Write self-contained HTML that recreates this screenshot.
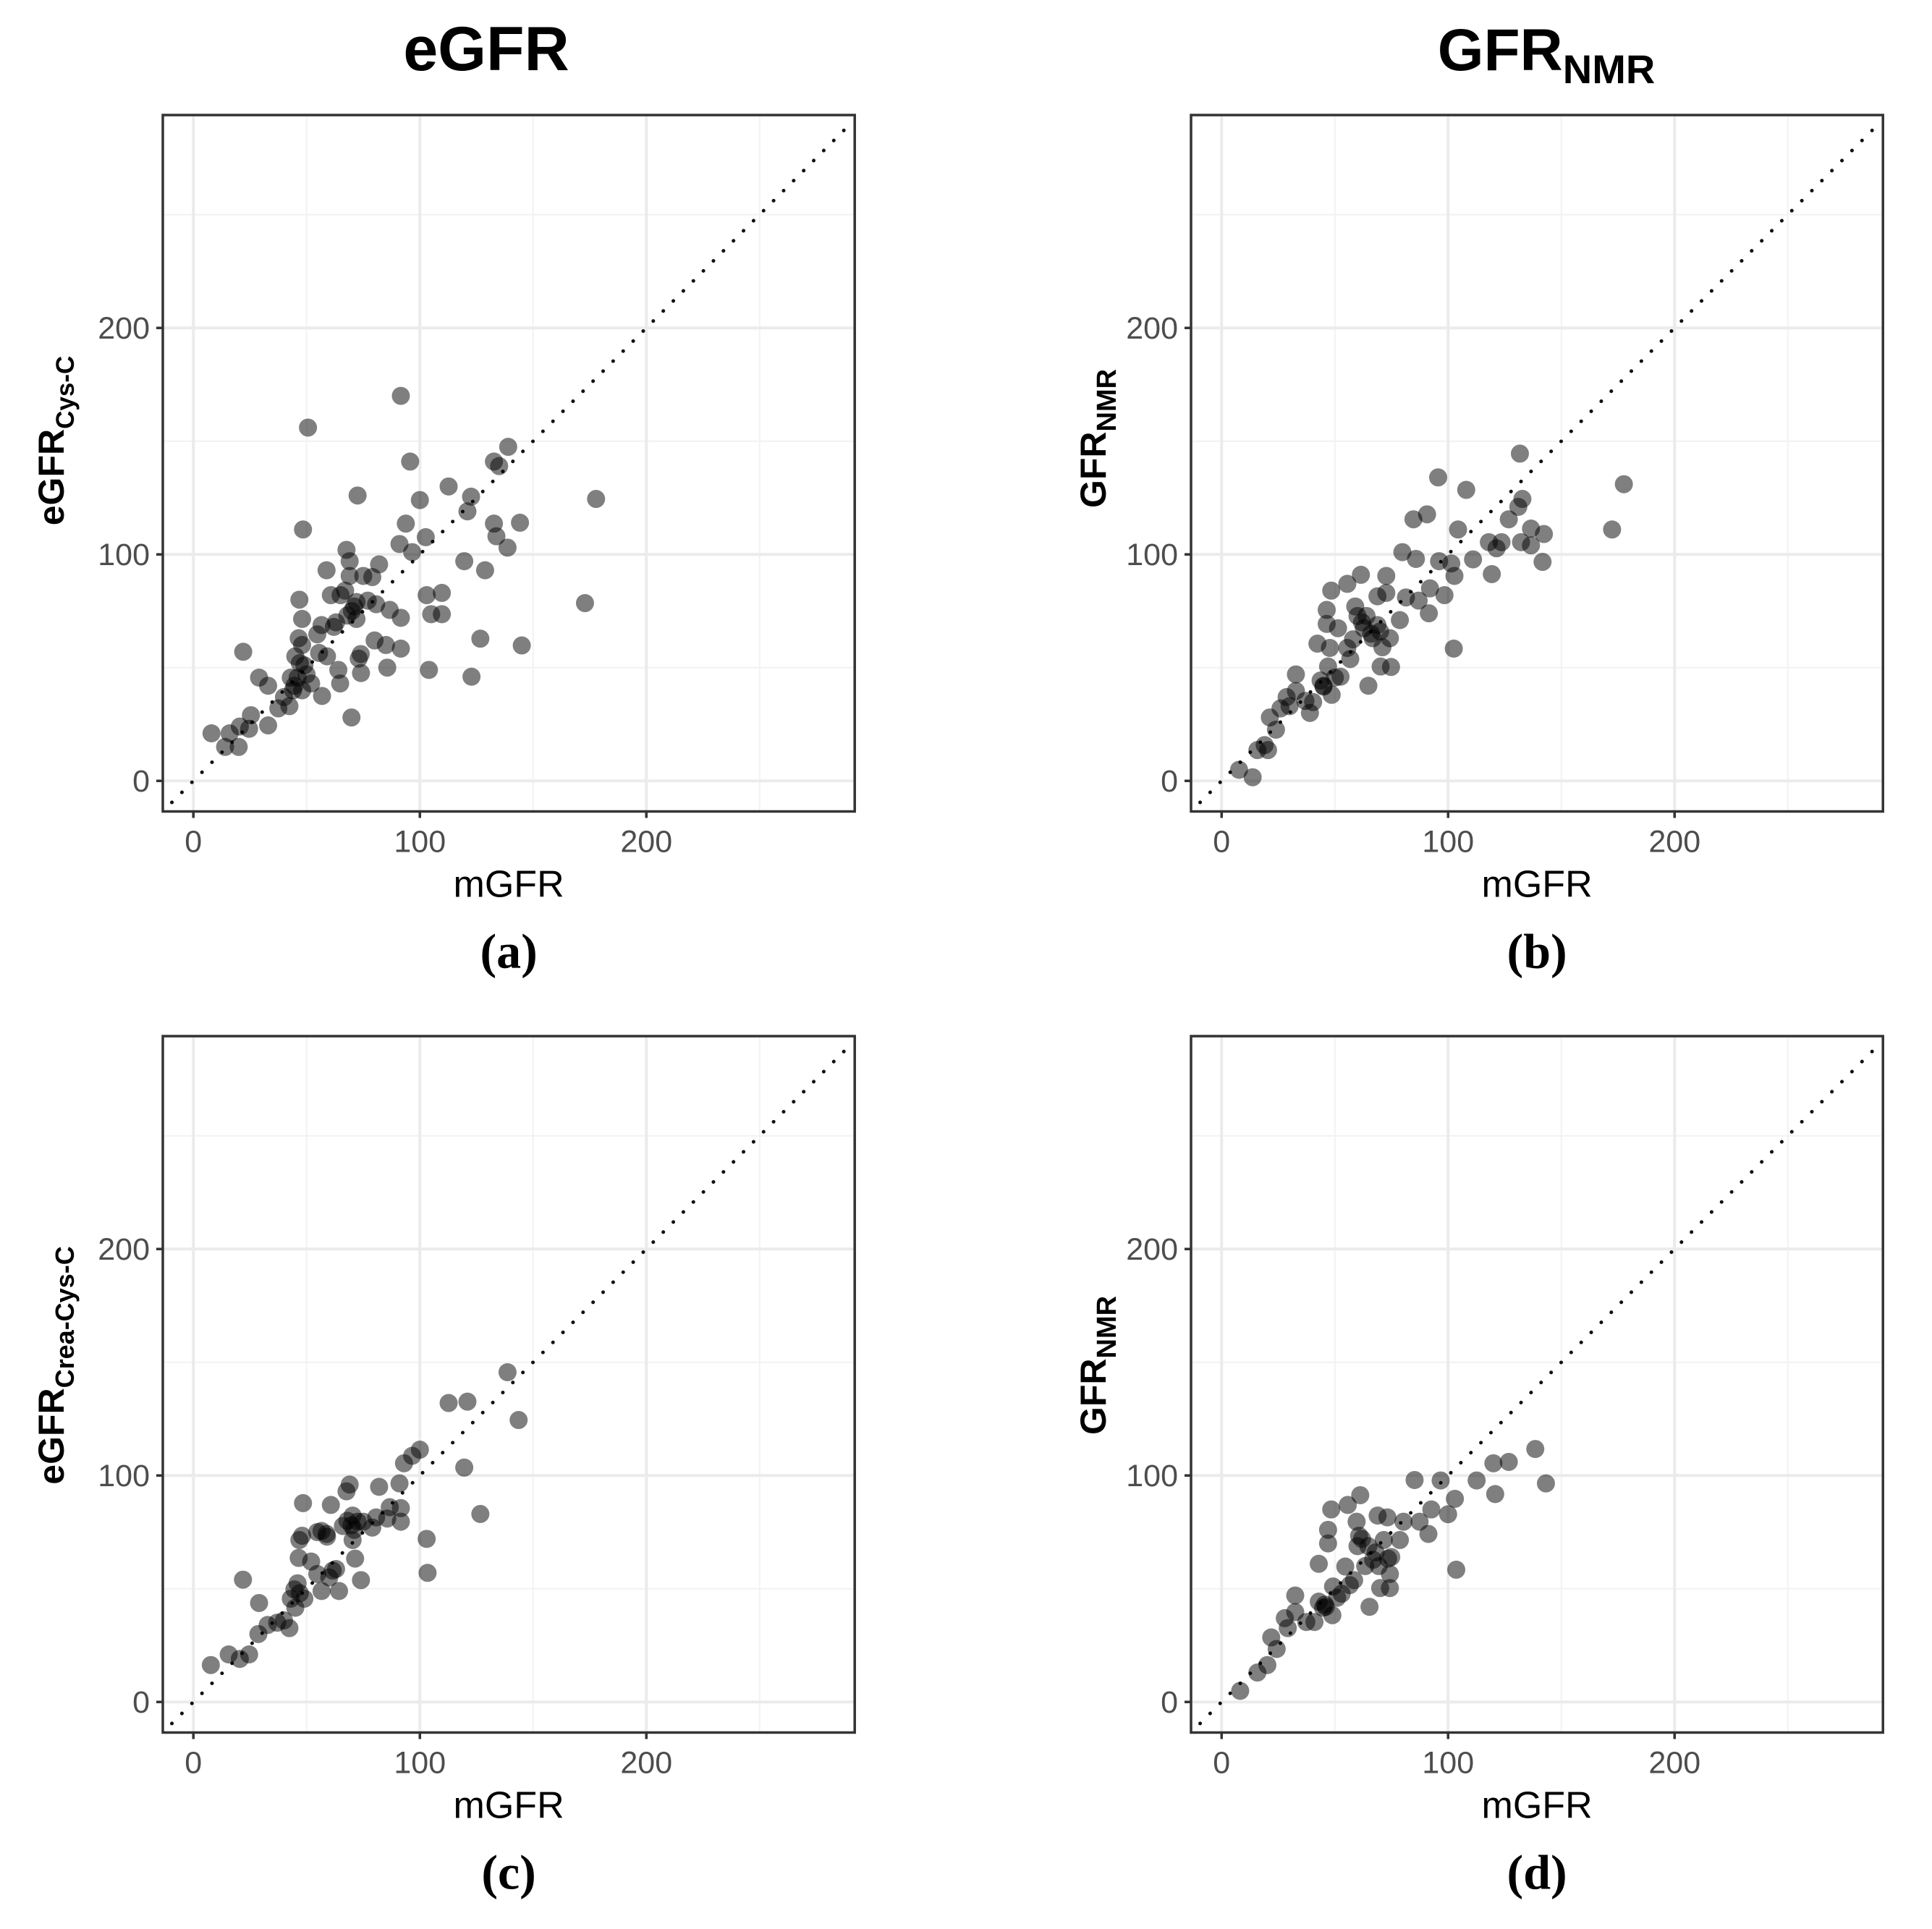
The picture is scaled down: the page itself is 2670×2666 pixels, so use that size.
<!DOCTYPE html>
<html><head><meta charset="utf-8">
<style>
html,body{margin:0;padding:0;background:#fff;}
svg{display:block;}
text{font-family:"Liberation Sans",sans-serif;}
text.serif{font-family:"Liberation Serif",serif;}
</style></head>
<body>
<svg id="fig" xmlns="http://www.w3.org/2000/svg" width="2670" height="2666" viewBox="0 0 2670 2666">
<rect width="2670" height="2666" fill="#fff"/>
</svg>
<script>
// ---- data (mGFR on x; estimates on y) ----
const aX=[8,14,16,20,20.5,24.6,22,25.4,29,33,33,37.5,40,42.4,43,44.6,45,46.5,46.8,48.4,48,49,50.6,48,46,48,52,54.7,55.5,56.8,56.6,58.8,59,60.7,63,64,64.8,65,67,67.6,69,69,69.8,71,72,72.5,73,73.9,74,75,77,79,80,80.7,82,85,85.6,86.7,91,91.6,91.6,91.6,93.8,95.7,96.6,100,102.6,104,103,105,109.7,109.7,112.7,119.6,121,122.6,122.8,126.7,128.8,132.7,132.7,133.8,135,139,138.7,144.2,145,172.9,177.8,70,72,68,50,47,62,44];
const aY=[21,15,21,15,24,23,57,29,45.6,42,24.5,32,37,33,45.6,42,55,63,80,111,71.5,51,156,60,45.6,40,43,64.7,56.5,37.5,68.8,93,55,82,70,49,43,82,84,102,97,90.5,28,77,71.5,126,54,56,47.6,90.5,79.6,90,62,78,95.6,60,50,75.5,104.6,170,72,58.4,113.6,141,101,124,107.6,49,82,73.6,83,73.6,130,97,119,125.5,46,62.8,93,141,113.6,108,139,147.5,103,114,59.8,78.5,124.5,75,79,73,47,52,68,40];

const bX=[7.7,13.7,15.8,19,20.5,21.3,24,26,28.7,30,32.8,32.8,37,39,40.4,42.3,43.7,45,46.4,46.4,47,47.8,48.4,48.6,50,51.4,52.5,55.5,55.5,56.8,58,59,60,61.5,62.8,64,64.8,66.7,68.8,68.8,70.2,71,72.7,72.7,74.3,74.8,78.7,79.8,81.4,84.7,85.8,87,90.7,91.5,92,96,95.6,98.4,101.4,102.5,102.8,104.4,108,111,118,119.3,121.4,123.6,126.8,131,131.7,132.2,132.8,136.6,136.6,141.7,142.3,172.4,177.6,66,70,62,45];
const bY=[4.9,1.6,13.6,15.8,13.6,28,22.6,32,37,33,47,39.7,35.3,30,34.8,60.6,44.3,41.6,75.5,69.3,50.5,58.7,84,38,45.6,67.4,46,58.7,87,53.8,62.5,77,72.8,91,67.4,72.8,42,63,81.5,68.8,50.5,59,90.5,83,63,50.3,71,101,81,115.5,98,79.6,117.7,74,85,97,134,82,96,58.4,90.5,111,128.5,97.8,105.4,91.3,102.7,105.4,115.5,121,144.5,105.4,124.5,104,111.4,96.7,109,111,131,65,66,70,42];

const cX=[7.7,15.6,20.5,24.6,21.9,28.7,29,32.8,37,40,42.4,43,44.6,45,46,46.5,46.8,48,48.4,49,52,54.7,54.7,56.6,56.6,58.8,60,60.7,61.5,63,64.3,66,67.6,69,69.8,70.3,71.4,70.3,72.5,74,75,79,80.7,82,85.6,86.7,91,91.6,91.6,93,96.6,100,103,103.4,112.7,119.6,121,126.7,138.7,143.6,68,71,59,47];
const cY=[16.3,21,19,21,54,30,43.7,34,35,36,32.6,45.6,49.7,41.6,52.4,63.6,71.5,73.4,87.8,45.6,62,56.5,75,49,75.5,74.2,55,87,58,58.7,49,77.7,93,96,78,71.5,63.3,82.3,79.6,53.8,79.6,77,81.5,95,81,86,96.5,85.6,79.6,105.4,108.7,111.4,72,57,132,103.5,132.6,83,145.6,124.5,80,76,73,48];

const dX=[8.2,15.8,20.2,21.9,24.3,27.9,29.2,32.5,32.5,37.4,41,42.9,42.9,44.8,45.6,47,47,48.4,48.9,49.2,51,53,54.6,55.7,56.6,58.5,59.6,60,60.7,61.2,63.4,64.8,65.3,66.9,68.9,69.4,70,71.6,73.2,73.5,74.3,74.3,74.9,78.7,80.3,85.2,87.4,91.3,92.6,96.7,100,103,103.6,112.6,120,120.8,126.8,138.5,143.2,46,68,62];
const dY=[4.9,13,16.3,28.5,23.4,37,32.6,47,39.7,35.3,35.3,61,44.3,41.6,43,76,70,85,38.3,51,46,47.8,59.8,87,51.6,53.8,79.6,68.8,73.4,91.3,60,68.8,42,62.8,82.3,60,50.3,71.5,81.5,63.3,56.5,50.3,64,71.5,79.6,98,79.6,74.2,85,97.8,82.9,89.7,58.4,97.8,105.4,91.8,106,111.7,96.5,42,66,72];

const tickVals=[0,100,200];
const minorVals=[50,150,250];

// ---- layout ----
const NS='http://www.w3.org/2000/svg';
const svg=document.getElementById('fig');
const U=3.13, VMIN=-13.5, VMAX=292, YMAX=294;
function mk(tag,attrs,parent){const e=document.createElementNS(NS,tag);for(const k in attrs)e.setAttribute(k,attrs[k]);(parent||svg).appendChild(e);return e;}

function panel(id,left,top,xs,ys,yMain,ySub,ySubSize,yLabX,yLabY,labelChar){
  const g=mk('g',{});
  
  
  const w=(VMAX-VMIN)*U, h=(YMAX-VMIN)*U;
  const sx=v=>left+(v-VMIN)*U;
  const sy=v=>top+(YMAX-v)*U;
  const bg=mk('rect',{x:left,y:top,width:w,height:h,fill:'#fff'},g);
  
  
  minorVals.forEach(v=>{
    const l1=mk('line',{x1:sx(v),x2:sx(v),y1:top,y2:top+h,stroke:'#f2f2f2','stroke-width':2},g);
    
    
    const l2=mk('line',{x1:left,x2:left+w,y1:sy(v),y2:sy(v),stroke:'#f2f2f2','stroke-width':2},g);
    
    
  });
  tickVals.forEach(v=>{
    const l1=mk('line',{x1:sx(v),x2:sx(v),y1:top,y2:top+h,stroke:'#ebebeb','stroke-width':4},g);
    
    
    const l2=mk('line',{x1:left,x2:left+w,y1:sy(v),y2:sy(v),stroke:'#ebebeb','stroke-width':4},g);
    
    
  });
  const lo=VMIN+4, hi=VMAX-4;
  const idl=mk('line',{x1:sx(lo),y1:sy(lo),x2:sx(hi),y2:sy(hi),stroke:'#111','stroke-width':5,'stroke-linecap':'round','stroke-dasharray':'0.1 19.5'},g);
  
  
  xs.forEach((xv,i)=>{
    const c=mk('circle',{cx:sx(xv),cy:sy(ys[i]),r:12.5,fill:'#000','fill-opacity':0.5},g);
    
    
  });
  const fr=mk('rect',{x:left,y:top,width:w,height:h,fill:'none',stroke:'#333','stroke-width':3.5},g);
  
  
  tickVals.forEach(v=>{
    const t1=mk('line',{x1:sx(v),x2:sx(v),y1:top+h,y2:top+h+9,stroke:'#333','stroke-width':3.5},g);
    
    
    const l1=mk('text',{x:sx(v),y:top+h+56,'text-anchor':'middle','font-size':43,fill:'#4d4d4d'},g);
    l1.textContent=v;
    
    
    const t2=mk('line',{x1:left-9,x2:left,y1:sy(v),y2:sy(v),stroke:'#333','stroke-width':3.5},g);
    
    
    const l2=mk('text',{x:left-18,y:sy(v)+15,'text-anchor':'end','font-size':43,fill:'#4d4d4d'},g);
    l2.textContent=v;
    
    
  });
  const xl=mk('text',{x:left+w/2,y:top+h+118,'text-anchor':'middle','font-size':52,fill:'#000'},g);
  xl.textContent='mGFR';
  
  
  const yl=mk('text',{transform:`translate(${yLabX},${yLabY}) rotate(-90)`,'text-anchor':'middle','font-size':50,'font-weight':'bold',fill:'#000'},g);
  
  
  const m=mk('tspan',{},yl); m.textContent=yMain;
  const s=mk('tspan',{'font-size':ySubSize,dy:14},yl); s.textContent=ySub;
  const pl=mk('text',{x:left+w/2,y:top+h+216,'text-anchor':'middle','font-size':68,'font-weight':'bold',fill:'#000','class':'serif'},g);
  pl.textContent='('+labelChar+')';
  
  
}

panel('a',225,159,aX,aY,'eGFR','Cys-C',35,88,609,'a');
panel('b',1646,159,bX,bY,'GFR','NMR',38,1528,606,'b');
panel('c',225,1432,cX,cY,'eGFR','Crea-Cys-C',36,88,1887,'c');
panel('d',1646,1432,dX,dY,'GFR','NMR',38,1528,1887,'d');

const t1=mk('text',{x:672,y:97,'text-anchor':'middle','font-size':86,'font-weight':'bold',fill:'#000'});
t1.textContent='eGFR';


const t2=mk('text',{x:2137,y:97,'text-anchor':'middle','font-size':82,'font-weight':'bold',fill:'#000'});


const t2a=mk('tspan',{},t2); t2a.textContent='GFR';
const t2b=mk('tspan',{'font-size':56,dy:18},t2); t2b.textContent='NMR';
</script>
</body></html>
